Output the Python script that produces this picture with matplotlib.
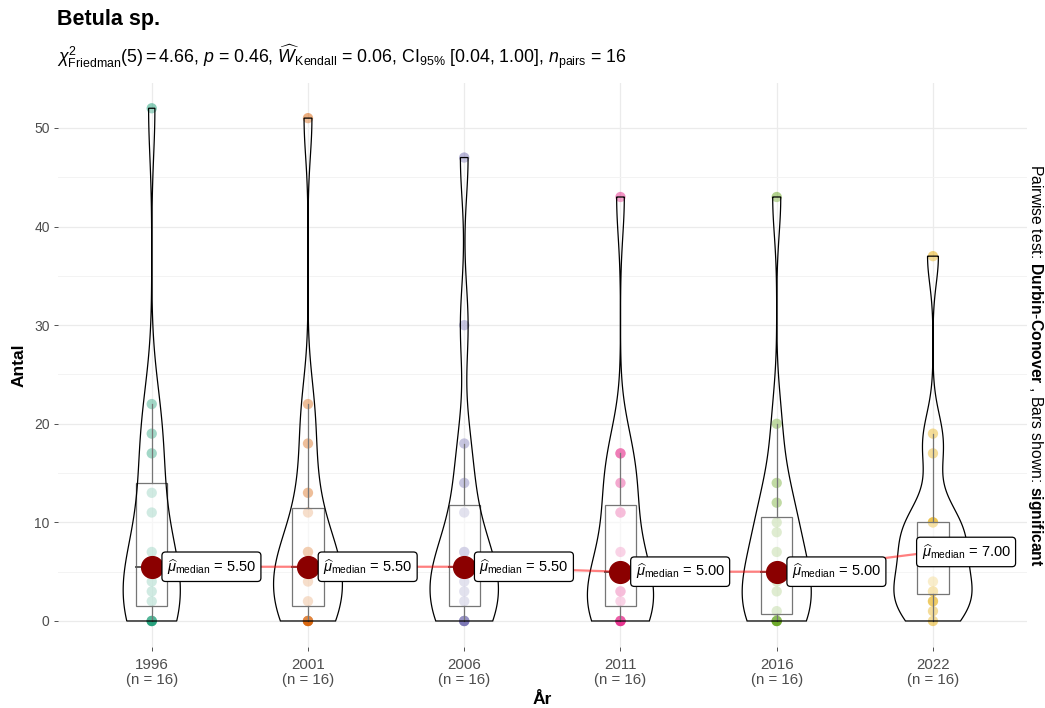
import numpy as np
import matplotlib
matplotlib.use('Agg')
import matplotlib.pyplot as plt
from matplotlib.ticker import MultipleLocator

plt.rcParams['font.family'] = ['Liberation Sans', 'DejaVu Sans']
plt.rcParams['mathtext.fontset'] = 'custom'
plt.rcParams['mathtext.rm'] = 'Liberation Sans'
plt.rcParams['mathtext.it'] = 'Liberation Sans:italic'
plt.rcParams['mathtext.bf'] = 'Liberation Sans:bold'

# counts per plot
years = ['1996', '2001', '2006', '2011', '2016', '2022']
antal_1996 = [0, 0, 0, 0, 2, 3, 4, 5, 6, 7, 11, 13, 17, 19, 22, 52]
antal_2001 = [0, 0, 0, 0, 2, 4, 5, 5, 6, 7, 7, 11, 13, 18, 22, 51]
antal_2006 = [0, 0, 0, 0, 2, 3, 4, 5, 6, 7, 7, 11, 14, 18, 30, 47]
antal_2011 = [0, 0, 0, 0, 2, 3, 3, 5, 5, 7, 11, 11, 14, 17, 17, 43]
antal_2016 = [0, 0, 0, 0, 1, 3, 4, 5, 5, 7, 9, 10, 12, 14, 20, 43]
antal_2022 = [0, 1, 2, 2, 3, 3, 4, 7, 7, 8, 10, 10, 10, 17, 19, 37]
groups = [antal_1996, antal_2001, antal_2006, antal_2011, antal_2016, antal_2022]

colors = ['#1B9E77', '#D95F02', '#7570B3', '#E7298A', '#66A61E', '#E6AB02']
label_dx = [0.07, 0.07, 0.07, 0.07, 0.07, -0.1]

title = 'Betula sp.'
subtitle = (r'$\chi^2_{\mathrm{Friedman}}(5) = 4.66$, $p$ = 0.46, '
            r'$\widehat{W}_{\mathrm{Kendall}}$ = 0.06, CI$_{95\%}$ [0.04, 1.00], '
            r'$n_{\mathrm{pairs}}$ = 16')
caption = (r'Pairwise test: $\mathbf{Durbin}$-$\mathbf{Conover}$ , '
           r'Bars shown: $\mathbf{significant}$')


def kde(vals):
    v = np.asarray(vals, float)
    n = len(v)
    q75, q25 = np.percentile(v, [75, 25])
    bw = 0.9 * min(v.std(ddof=1), (q75 - q25) / 1.34) * n ** -0.2
    grid = np.linspace(v.min(), v.max(), 512)
    d = np.exp(-0.5 * ((grid[:, None] - v[None, :]) / bw) ** 2).sum(1)
    return grid, d / (n * bw * np.sqrt(2 * np.pi))


fig = plt.figure(figsize=(10.45, 7.08), dpi=100)
ax = fig.add_axes([0.0555, 0.0867, 0.927, 0.7966])

pos = np.arange(1, len(years) + 1)
dens = [kde(g) for g in groups]
dmax = max(d.max() for _, d in dens)
medians = [np.median(g) for g in groups]

for i, (g, c) in enumerate(zip(groups, colors)):
    x = pos[i]
    ax.scatter(np.full(len(g), x), g, s=55, color=c, alpha=0.5,
               edgecolor='none', zorder=2)
    q1, q3 = np.percentile(g, [25, 75])
    iqr = q3 - q1
    arr = np.asarray(g)
    hi = arr[arr <= q3 + 1.5 * iqr].max()
    lo = arr[arr >= q1 - 1.5 * iqr].min()
    bw = 0.1
    ax.fill([x - bw, x + bw, x + bw, x - bw], [q1, q1, q3, q3],
            facecolor=(1, 1, 1, 0.5), edgecolor='#555555', lw=0.9, zorder=3)
    ax.plot([x, x], [q3, hi], color='#555555', lw=0.9, zorder=3)
    ax.plot([x, x], [lo, q1], color='#555555', lw=0.9, zorder=3)
    ax.plot([x - bw, x + bw], [medians[i]] * 2, color='#333333', lw=1.4, zorder=3)
    grid, d = dens[i]
    hw = d / dmax * 0.25
    ax.fill(np.concatenate([x - hw, (x + hw)[::-1]]),
            np.concatenate([grid, grid[::-1]]),
            facecolor=(1, 1, 1, 0.2), edgecolor='black', lw=0.9, zorder=4)

ax.plot(pos, medians, color='red', alpha=0.5, lw=1.6, zorder=5)
ax.scatter(pos, medians, s=245, color='darkred', zorder=6)
for i, m in enumerate(medians):
    ax.text(pos[i] + label_dx[i] + 0.027, m,
            r'$\widehat{\mu}_{\mathrm{median}}$' + ' = %.2f' % m,
            ha='left', va='center', fontsize=10.5, zorder=7,
            bbox=dict(boxstyle='round,pad=0.34,rounding_size=0.25',
                      facecolor='white', edgecolor='black', lw=0.9))

ax.set_xlim(0.4, 6.6)
ax.set_ylim(-2.6, 54.6)
ax.yaxis.set_major_locator(MultipleLocator(10))
ax.yaxis.set_minor_locator(MultipleLocator(5))
ax.set_xticks(pos)
ax.set_xticklabels(['%s\n(n = %d)' % (y, len(g)) for y, g in zip(years, groups)],
                   linespacing=1.1)
ax.grid(which='major', color='#EBEBEB', lw=0.9)
ax.grid(which='minor', axis='y', color='#F3F3F3', lw=0.7)
ax.set_axisbelow(True)
for s in ax.spines.values():
    s.set_visible(False)
ax.tick_params(axis='both', which='major', colors='#333333', labelcolor='#4D4D4D',
               length=3, width=0.6, pad=3)
ax.tick_params(axis='x', labelsize=10.8, pad=5)
ax.tick_params(axis='y', labelsize=10)
ax.tick_params(axis='y', which='minor', length=0)

fig.text(57 / 1045, 1 - 19 / 708, title, fontsize=15.5, fontweight='bold',
         ha='left', va='center')
fig.text(57 / 1045, 1 - 57 / 708, subtitle, fontsize=12.8, ha='left', va='center')
fig.text(19 / 1045, 1 - 365 / 708, 'Antal', fontsize=12.5, fontweight='bold',
         rotation=90, ha='center', va='center')
fig.text(542 / 1045, 1 - 699 / 708, 'År', fontsize=12.5, fontweight='bold',
         ha='center', va='center')
fig.text(1036 / 1045, 1 - 365 / 708, caption, fontsize=11.3, rotation=270,
         ha='center', va='center')

fig.savefig('out.png', dpi=100)
